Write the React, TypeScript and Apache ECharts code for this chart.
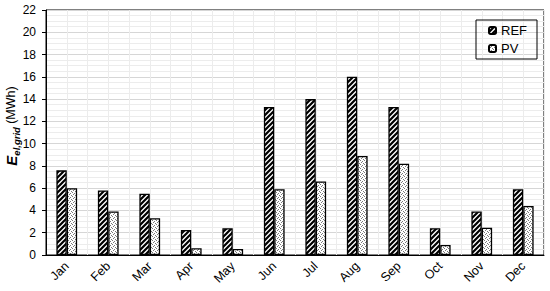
import React, { useEffect, useRef } from "react";
import * as echarts from "echarts";

const months = ["Jan", "Feb", "Mar", "Apr", "May", "Jun", "Jul", "Aug", "Sep", "Oct", "Nov", "Dec"];
const refValues = [7.6, 5.8, 5.5, 2.25, 2.4, 13.3, 14.0, 16.0, 13.3, 2.4, 3.9, 5.9];
const pvValues = [6.0, 3.9, 3.3, 0.6, 0.55, 5.9, 6.6, 8.9, 8.2, 0.9, 2.45, 4.4];
const seriesNames = ["REF", "PV"];
const yAxisTitle = "{e|E}{s|el,grid} {u|(MWh)}";

function hatchCanvas(): HTMLCanvasElement {
  const s = 5;
  const c = document.createElement("canvas");
  c.width = s;
  c.height = s;
  const ctx = c.getContext("2d")!;
  ctx.fillStyle = "#ffffff";
  ctx.fillRect(0, 0, s, s);
  ctx.strokeStyle = "#000000";
  ctx.lineWidth = 2.2;
  ctx.beginPath();
  ctx.moveTo(-1, s + 1);
  ctx.lineTo(s + 1, -1);
  ctx.moveTo(-1, 1);
  ctx.lineTo(1, -1);
  ctx.moveTo(s - 1, s + 1);
  ctx.lineTo(s + 1, s - 1);
  ctx.stroke();
  return c;
}

function dotCanvas(): HTMLCanvasElement {
  const s = 4;
  const c = document.createElement("canvas");
  c.width = s;
  c.height = s;
  const ctx = c.getContext("2d")!;
  ctx.fillStyle = "#ffffff";
  ctx.fillRect(0, 0, s, s);
  ctx.fillStyle = "#7a7a7a";
  [[0, 0], [2, 1], [1, 2], [3, 3]].forEach(([x, y]) => ctx.fillRect(x, y, 1, 1));
  return c;
}

export default function App() {
  const ref = useRef<HTMLDivElement>(null);
  useEffect(() => {
    if (!ref.current) return;
    const chart = echarts.init(ref.current, undefined, { renderer: "svg" });
    const font = "Liberation Sans, Arial, sans-serif";
    const hatch = { image: hatchCanvas(), repeat: "repeat" } as any;
    const dots = { image: dotCanvas(), repeat: "repeat" } as any;
    chart.setOption({
      animation: false,
      backgroundColor: "#ffffff",
      textStyle: { fontFamily: font },
      grid: {
        left: 46,
        right: 6,
        top: 10,
        bottom: 36,
        containLabel: false,
        outerBoundsMode: "none",
        show: true,
        borderColor: "#000",
        borderWidth: 1,
        backgroundColor: "#ffffff",
      },
      graphic: [
        {
          type: "text",
          x: 11,
          y: 126,
          rotation: Math.PI / 2,
          style: {
            text: yAxisTitle,
            align: "center",
            verticalAlign: "middle",
            fill: "#000",
            fontFamily: font,
            rich: {
              e: { fontSize: 15, lineHeight: 20, fontWeight: "bold", fontStyle: "italic", fill: "#000", fontFamily: font, verticalAlign: "middle" },
              s: { fontSize: 9.5, lineHeight: 10, fontWeight: "bold", fontStyle: "italic", fill: "#000", fontFamily: font, verticalAlign: "bottom" },
              u: { fontSize: 12.5, lineHeight: 20, fill: "#000", fontFamily: font, verticalAlign: "middle" },
            },
          },
        },
      ],
      legend: {
        orient: "vertical",
        left: 476,
        top: 20,
        data: seriesNames,
        itemWidth: 7,
        itemHeight: 7,
        itemGap: 5,
        padding: [4, 10, 4, 12],
        borderColor: "#000",
        borderWidth: 1,
        textStyle: { fontSize: 13, color: "#000", fontFamily: font },
      },
      xAxis: [
        {
          type: "category",
          data: months,
          boundaryGap: true,
          axisLine: { show: true, lineStyle: { color: "#000", width: 1 } },
          axisTick: { show: false },
          axisLabel: {
            rotate: 45,
            fontSize: 12.5,
            color: "#000",
            margin: 9,
            interval: 0,
            fontFamily: font,
          },
          splitLine: { show: true, interval: 0, lineStyle: { color: "#d6d6d6", width: 1 } },
        },
        {
          type: "value",
          min: 0,
          max: 24,
          interval: 1,
          show: true,
          position: "top",
          axisLine: { show: false },
          axisTick: { show: false },
          axisLabel: { show: false },
          splitLine: { show: true, lineStyle: { color: "#ececec", width: 1 } },
        },
      ],
      yAxis: {
        type: "value",
        min: 0,
        max: 22,
        interval: 2,
        axisLine: { show: true, lineStyle: { color: "#000", width: 1 } },
        axisTick: { show: true, length: 4, lineStyle: { color: "#000" } },
        axisLabel: { fontSize: 12, color: "#000", margin: 10, fontFamily: font },
        splitLine: { show: true, lineStyle: { color: "#d6d6d6", width: 1 } },
        minorTick: { show: false, splitNumber: 4 },
        minorSplitLine: { show: true, lineStyle: { color: "#ececec", width: 1 } },
      },
      series: [
        {
          name: seriesNames[0],
          type: "bar",
          xAxisIndex: 0,
          data: refValues,
          barWidth: "25%",
          barGap: "0%",
          itemStyle: { color: hatch, borderColor: "#000", borderWidth: 1.3 },
        },
        {
          name: seriesNames[1],
          type: "bar",
          xAxisIndex: 0,
          data: pvValues,
          barWidth: "25%",
          barGap: "0%",
          itemStyle: { color: dots, borderColor: "#000", borderWidth: 1.3 },
        },
      ],
    });
    return () => chart.dispose();
  }, []);
  return <div ref={ref} style={{ position: "fixed", left: 0, top: 0, width: 550, height: 291 }} />;
}
